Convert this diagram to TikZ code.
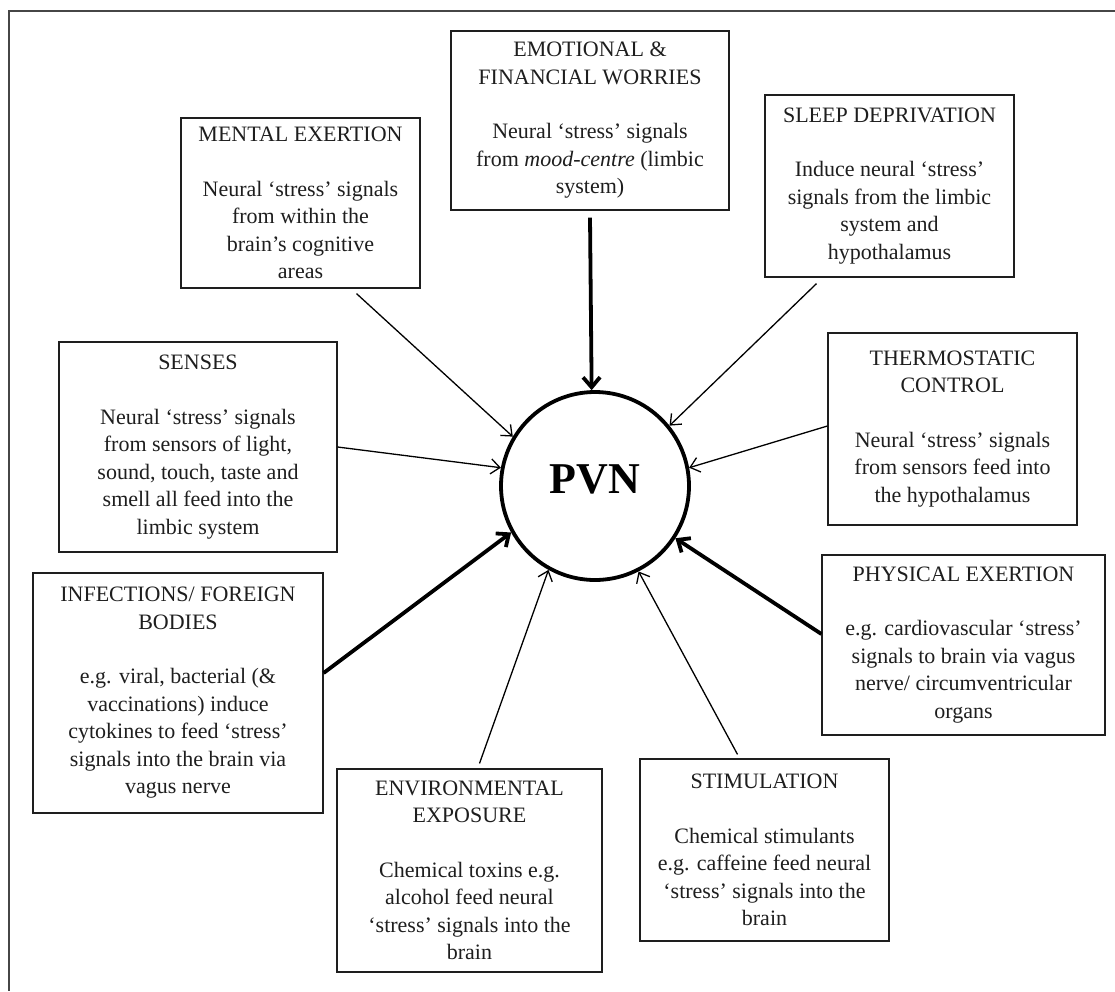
\documentclass[tikz,border=0pt]{standalone}
\usepackage{fontspec}
\setmainfont{Liberation Serif}
\usepackage{tikz}
\usetikzlibrary{positioning,arrows.meta}
\definecolor{inkdark}{RGB}{30,30,30}
\definecolor{framegrey}{RGB}{70,70,70}

\begin{document}
\begin{tikzpicture}[x=1pt, y=-1pt,
  factor/.style={draw=inkdark, line width=1.2pt, fill=white, inner sep=0pt, align=center, text=inkdark, font=\fontsize{22}{27.5}\selectfont},
  hub/.style={circle, draw=black, line width=3.8pt, minimum size=188pt, inner sep=0pt, font=\fontsize{44}{48}\selectfont\bfseries},
  arrow/.style={-{Straight Barb[length=9pt,width=15pt]}, line width=1.3pt, black},
  heavy/.style={-{Straight Barb[length=10pt,width=17pt]}, line width=3.8pt, black}
]
  \path[use as bounding box] (0,0) rectangle (1115,991);
  \draw[framegrey, line width=1.4pt] (1115,11) -- (9,11) -- (9,991);

  \node[hub] (pvn) at (595,486) {\raisebox{14pt}{PVN}};

  \node[factor, minimum width=239pt, minimum height=170pt] (mental) at (300.5,203) {MENTAL EXERTION\\[27pt]Neural ‘stress’ signals\\from within the\\brain’s cognitive\\areas};
  \node[factor, minimum width=278pt, minimum height=179pt] (emotion) at (590,120.5) {EMOTIONAL \&\\FINANCIAL WORRIES\\[27pt]Neural ‘stress’ signals\\from \textit{mood-centre} (limbic\\system)};
  \node[factor, minimum width=249pt, minimum height=182pt] (sleep) at (889.5,186) {SLEEP DEPRIVATION\\[27pt]Induce neural ‘stress’\\signals from the limbic\\system and\\hypothalamus};
  \node[factor, minimum width=249pt, minimum height=192pt] (thermo) at (952.5,429) {THERMOSTATIC\\CONTROL\\[27pt]Neural ‘stress’ signals\\from sensors feed into\\the hypothalamus};
  \node[factor, minimum width=278pt, minimum height=210pt] (senses) at (198,447) {SENSES\\[27pt]Neural ‘stress’ signals\\from sensors of light,\\sound, touch, taste and\\smell all feed into the\\limbic system};
  \node[factor, minimum width=290pt, minimum height=240pt] (infection) at (178,693) {INFECTIONS/ FOREIGN\\BODIES\\[27pt]e.g. viral, bacterial (\&\\vaccinations) induce\\cytokines to feed ‘stress’\\signals into the brain via\\vagus nerve};
  \node[factor, minimum width=265pt, minimum height=203pt] (environ) at (469.5,870.5) {ENVIRONMENTAL\\EXPOSURE\\[27pt]Chemical toxins e.g.\\alcohol feed neural\\‘stress’ signals into the\\brain};
  \node[factor, minimum width=249pt, minimum height=182pt] (stimul) at (764.5,850) {STIMULATION\\[27pt]Chemical stimulants\\e.g. caffeine feed neural\\‘stress’ signals into the\\brain};
  \node[factor, minimum width=283pt, minimum height=180pt] (physical) at (963.5,645) {PHYSICAL EXERTION\\[27pt]e.g. cardiovascular ‘stress’\\signals to brain via vagus\\nerve/ circumventricular\\organs};

  \draw[arrow] ([xshift=56pt,yshift=-5pt]mental.south) -- (pvn.149);
  \draw[heavy] ([yshift=-7pt]emotion.south) -- (pvn.92);
  \draw[arrow] ([xshift=-73pt,yshift=-6pt]sleep.south) -- (pvn.39);
  \draw[arrow] ([yshift=3pt]thermo.west) -- (pvn.11);
  \draw[arrow] (senses.east) -- (pvn.169);
  \draw[heavy] ([yshift=20pt]infection.east) -- (pvn.209);
  \draw[arrow] ([xshift=10pt,yshift=5pt]environ.north) -- (pvn.241);
  \draw[arrow] ([xshift=-27pt,yshift=4pt]stimul.north) -- (pvn.-63);
  \draw[heavy] ([yshift=11pt]physical.west) -- (pvn.-33);
\end{tikzpicture}
\end{document}
